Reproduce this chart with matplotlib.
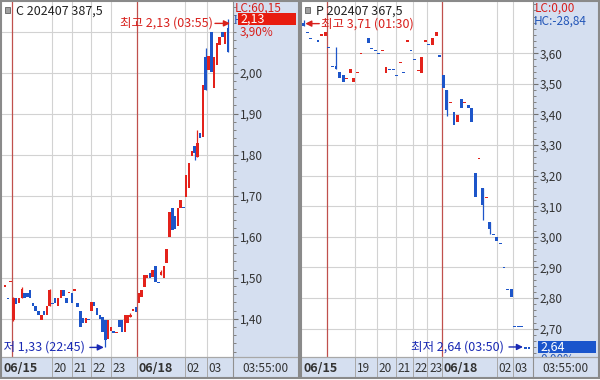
import numpy as np
import matplotlib
matplotlib.use('Agg')
import matplotlib.pyplot as plt
from matplotlib.patches import Rectangle
from matplotlib.transforms import offset_copy
from matplotlib.ticker import MultipleLocator, FuncFormatter

plt.rcParams['font.family'] = ['Noto Sans CJK KR', 'DejaVu Sans']
plt.rcParams['axes.unicode_minus'] = False

nan = float('nan')

# ---------------- call option panel data ----------------
call_title = 'C 202407 387,5'
call_open = [1.480, 1.450, 1.490, 1.397, 1.450, 1.438, 1.450, 1.462, 1.462, 1.470,
             1.438, 1.430, 1.420, 1.397, 1.418, 1.408, 1.430, 1.438, 1.450, 1.430,
             1.450, 1.470, 1.450, 1.463, 1.463, 1.470, 1.438, 1.418, 1.401, 1.389,
             1.398, 1.418, 1.440, 1.426, 1.410, 1.405, 1.397, 1.350, 1.370, 1.370,
             1.366, 1.397, 1.397, 1.368, 1.390, 1.405, 1.421, 1.429, 1.438, 1.454,
             1.478, 1.499, 1.511, 1.502, 1.528, 1.489, 1.507, 1.499, 1.537, 1.599,
             1.669, 1.650, 1.626, 1.669, 1.672, 1.698, 1.718, 1.797, 1.820, 1.795,
             1.852, 1.843, 2.039, 2.007, 2.099, 1.962, 2.019, 2.068, 2.099, 2.070,
             2.108]
call_high = [1.480, 1.450, 1.490, 1.452, 1.450, 1.450, 1.478, 1.462, 1.462, 1.470,
             1.438, 1.430, 1.420, 1.408, 1.418, 1.430, 1.472, 1.438, 1.450, 1.450,
             1.470, 1.470, 1.450, 1.463, 1.463, 1.470, 1.438, 1.418, 1.401, 1.401,
             1.398, 1.440, 1.440, 1.426, 1.410, 1.405, 1.397, 1.397, 1.380, 1.370,
             1.366, 1.397, 1.397, 1.408, 1.409, 1.414, 1.421, 1.429, 1.462, 1.470,
             1.507, 1.507, 1.511, 1.518, 1.528, 1.489, 1.520, 1.529, 1.570, 1.661,
             1.669, 1.650, 1.670, 1.689, 1.672, 1.750, 1.779, 1.810, 1.820, 1.860,
             1.852, 1.970, 2.059, 2.040, 2.099, 2.039, 2.072, 2.088, 2.099, 2.100,
             2.130]
call_low = [1.480, 1.450, 1.490, 1.395, 1.435, 1.438, 1.450, 1.450, 1.452, 1.450,
            1.430, 1.418, 1.408, 1.397, 1.410, 1.408, 1.430, 1.438, 1.438, 1.430,
            1.450, 1.455, 1.438, 1.463, 1.438, 1.470, 1.428, 1.380, 1.389, 1.389,
            1.398, 1.418, 1.430, 1.410, 1.400, 1.368, 1.330, 1.350, 1.370, 1.365,
            1.366, 1.380, 1.368, 1.368, 1.390, 1.405, 1.421, 1.417, 1.438, 1.454,
            1.478, 1.499, 1.500, 1.502, 1.490, 1.489, 1.507, 1.499, 1.537, 1.599,
            1.616, 1.618, 1.626, 1.669, 1.672, 1.698, 1.718, 1.797, 1.787, 1.795,
            1.840, 1.843, 1.958, 2.007, 2.002, 1.962, 2.019, 2.068, 2.088, 2.070,
            2.051]
call_close = [1.480, 1.450, 1.490, 1.450, 1.435, 1.450, 1.472, 1.450, 1.452, 1.450,
              1.430, 1.418, 1.408, 1.408, 1.410, 1.430, 1.470, 1.438, 1.438, 1.450,
              1.470, 1.455, 1.438, 1.463, 1.438, 1.470, 1.428, 1.380, 1.389, 1.401,
              1.398, 1.440, 1.430, 1.410, 1.400, 1.368, 1.348, 1.397, 1.380, 1.365,
              1.366, 1.380, 1.368, 1.408, 1.409, 1.409, 1.421, 1.417, 1.462, 1.470,
              1.507, 1.507, 1.500, 1.518, 1.490, 1.489, 1.515, 1.529, 1.570, 1.661,
              1.616, 1.618, 1.670, 1.689, 1.672, 1.750, 1.779, 1.810, 1.803, 1.828,
              1.840, 1.970, 1.958, 2.040, 2.002, 2.039, 2.072, 2.088, 2.088, 2.100,
              2.051]
call_time_pos = [2.5, 16.8, 23.9, 30.9, 38.1, 47.5, 64.5, 72.5]
call_time_labels = ['06/15', '20', '21', '22', '23', '06/18', '02', '03']
call_yticks = [1.40, 1.50, 1.60, 1.70, 1.80, 1.90, 2.00]
call_ygrid = [1.40, 1.50, 1.60, 1.70, 1.80, 1.90, 2.00, 2.10]
call_last = 2.13
call_pct = '3,90%'
call_lc = 'LC:60,15'
call_hc = 'HC:'
call_hi_time = '03:55'
call_lo_time = '22:45'
call_clock = '03:55:00'

# ---------------- put option panel data ----------------
put_title = 'P 202407 367,5'
put_open = [3.700, 3.669, 3.649, nan, 3.640, 3.660, 3.658, 3.620, 3.558, 3.558,
            3.540, 3.529, 3.518, 3.537, 3.505, 3.537, 3.600, nan, 3.649, 3.616,
            3.608, 3.600, 3.608, 3.535, 3.548, 3.548, 3.527, 3.569, 3.537, 3.640,
            3.608, 3.580, 3.541, 3.537, 3.640, 3.630, 3.627, 3.657, 3.591, 3.529,
            3.480, 3.439, 3.409, 3.376, 3.450, 3.439, 3.431, 3.420, 3.208, 3.257,
            3.161, 3.129, 3.048, 3.008, 3.000, 2.979, 2.899, 2.829, 2.829, 2.707,
            2.707, 2.707, 2.637, 2.637]
put_high = [3.710, 3.669, 3.649, nan, 3.640, 3.660, 3.669, 3.620, 3.558, 3.620,
            3.540, 3.529, 3.518, 3.548, 3.518, 3.537, 3.600, nan, 3.649, 3.616,
            3.608, 3.600, 3.608, 3.556, 3.548, 3.548, 3.527, 3.569, 3.537, 3.640,
            3.608, 3.580, 3.545, 3.589, 3.640, 3.630, 3.649, 3.671, 3.591, 3.529,
            3.480, 3.439, 3.409, 3.398, 3.450, 3.439, 3.431, 3.420, 3.208, 3.257,
            3.161, 3.129, 3.048, 3.008, 3.000, 2.979, 2.899, 2.829, 2.829, 2.707,
            2.707, 2.707, 2.637, 2.637]
put_low = [3.688, 3.669, 3.649, nan, 3.640, 3.660, 3.658, 3.620, 3.558, 3.548,
           3.518, 3.507, 3.518, 3.537, 3.505, 3.537, 3.600, nan, 3.635, 3.616,
           3.608, 3.600, 3.608, 3.535, 3.548, 3.548, 3.527, 3.569, 3.537, 3.640,
           3.608, 3.580, 3.541, 3.537, 3.640, 3.630, 3.627, 3.657, 3.591, 3.485,
           3.395, 3.439, 3.366, 3.376, 3.420, 3.439, 3.420, 3.376, 3.129, 3.257,
           3.055, 3.129, 3.010, 3.008, 2.987, 2.979, 2.899, 2.829, 2.805, 2.707,
           2.707, 2.707, 2.637, 2.637]
put_close = [3.688, 3.669, 3.649, nan, 3.640, 3.660, 3.669, 3.620, 3.558, 3.548,
             3.518, 3.507, 3.518, 3.548, 3.518, 3.537, 3.600, nan, 3.635, 3.616,
             3.608, 3.600, 3.608, 3.556, 3.548, 3.548, 3.527, 3.569, 3.537, 3.640,
             3.608, 3.580, 3.545, 3.589, 3.640, 3.630, 3.649, 3.671, 3.591, 3.485,
             3.415, 3.439, 3.366, 3.398, 3.420, 3.439, 3.420, 3.376, 3.129, 3.257,
             3.104, 3.129, 3.025, 3.008, 2.987, 2.979, 2.899, 2.829, 2.805, 2.707,
             2.707, 2.707, 2.637, 2.637]
put_time_pos = [6.5, 14.4, 20.5, 25.7, 30.5, 34.6, 38.55, 54.1, 58.5]
put_time_labels = ['06/15', '19', '20', '21', '22', '23', '06/18', '02', '03']
put_yticks = [2.70, 2.80, 2.90, 3.00, 3.10, 3.20, 3.30, 3.40, 3.50, 3.60]
put_ygrid = [2.70, 2.80, 2.90, 3.00, 3.10, 3.20, 3.30, 3.40, 3.50, 3.60]
put_last = 2.64
put_pct = '0,00%'
put_lc = 'LC:0,00'
put_hc = 'HC:-28,84'
put_hi_time = '01:30'
put_lo_time = '03:50'
put_clock = '03:55:00'

# ---------------- style ----------------
UP = '#e3221b'
DOWN = '#1d55c9'
RED_LINE = '#c0504d'
GRID = '#d2d2d2'
AXBG = '#d5dff0'
TXT = '#333333'
RED_TXT = '#d8201c'
BLUE_TXT = '#1a2ab4'
HC_BLUE = '#2356b8'
BOX_RED = '#e81c10'
BOX_BLUE = '#1a55cc'
FRAME = '#8a8a8a'
SEP = '#a8a8a8'

W, H = 600, 380
fig = plt.figure(figsize=(W / 100, H / 100), dpi=100)
fig.patch.set_facecolor('white')


def rect(x0, y0, x1, y1):
    return [x0 / W, 1 - y1 / H, (x1 - x0) / W, (y1 - y0) / H]


bg = fig.add_axes([0, 0, 1, 1], zorder=0)
bg.set_xlim(0, W); bg.set_ylim(H, 0); bg.axis('off')
ov = fig.add_axes([0, 0, 1, 1], zorder=3)
ov.set_xlim(0, W); ov.set_ylim(H, 0); ov.axis('off')

fmt = lambda v: f'{v:.2f}'.replace('.', ',')


def panel(ox, title, O, Hh, L, C, tpos, tlabels, xlim, ylim, yticks, ygrid, cw,
          lc, hc, hc_color, last, box_color, pct, pct_color, hi_time, lo_time,
          clock, hi_right, hi_off, lo_off):
    O, Hh, L, C = (np.array(a, float) for a in (O, Hh, L, C))
    bg.add_patch(Rectangle((ox + 233, 2), 66, 355, fc=AXBG, ec='none'))
    ax = fig.add_axes(rect(ox + 2, 2, ox + 233, 357), zorder=1)
    ax.set_facecolor('white')
    ax.set_xlim(*xlim); ax.set_ylim(*ylim)
    for s in ('top', 'left', 'bottom'):
        ax.spines[s].set_visible(False)
    ax.spines['right'].set_color('#909090'); ax.spines['right'].set_linewidth(0.8)
    ax.set_xticks([])
    ax.yaxis.tick_right()
    ax.set_yticks(yticks)
    ax.yaxis.set_minor_locator(MultipleLocator(0.02))
    ax.yaxis.set_major_formatter(FuncFormatter(lambda v, p: fmt(v)))
    ax.tick_params(axis='y', which='major', direction='out', length=3.8, width=0.8,
                   color='#707070', labelsize=8.5, labelcolor=TXT, pad=1.0)
    ax.tick_params(axis='y', which='minor', direction='out', length=2.0, width=0.7,
                   color='#808080')
    for v in ygrid:
        ax.axhline(v, color=GRID, lw=0.8, zorder=0.5)
    for p, lab in zip(tpos, tlabels):
        is_date = '/' in lab
        ax.axvline(p, color=RED_LINE if is_date else GRID, lw=0.9 if is_date else 0.8,
                   zorder=0.6 if not is_date else 0.7)

    minh = (ylim[1] - ylim[0]) / 355 * 1.2
    prev_c, prev_up = nan, True
    for i in range(len(O)):
        if np.isnan(O[i]):
            continue
        if C[i] > O[i]:
            up = True
        elif C[i] < O[i]:
            up = False
        elif not np.isnan(prev_c) and C[i] != prev_c:
            up = C[i] > prev_c
        else:
            up = prev_up
        col = UP if up else DOWN
        lo, hi = min(O[i], C[i]), max(O[i], C[i])
        if hi - lo < minh:
            mid = (hi + lo) / 2
            lo, hi = mid - minh / 2, mid + minh / 2
        if Hh[i] > max(O[i], C[i]) + 1e-9 or L[i] < min(O[i], C[i]) - 1e-9:
            ax.vlines(i, L[i], Hh[i], color=col, lw=0.9, zorder=1.9)
        ax.bar(i, hi - lo, width=cw, bottom=lo, color=col, linewidth=0, zorder=2)
        prev_c, prev_up = C[i], up

    # high / low markers
    ih = int(np.nanargmax(Hh)); il = int(np.nanargmin(L))
    vh, vl = Hh[ih], L[il]
    ap = dict(arrowstyle='-|>', mutation_scale=9, lw=1, shrinkA=0, shrinkB=0)
    trh = offset_copy(ax.transData, fig=fig, x=hi_off[0], y=hi_off[1], units='dots')
    trl = offset_copy(ax.transData, fig=fig, x=lo_off[0], y=lo_off[1], units='dots')
    if hi_right:
        ax.annotate('', xy=(ih, vh), xycoords=trh, xytext=(14, 0), textcoords='offset pixels',
                    arrowprops=dict(ap, color=RED_TXT))
        ax.annotate(f'최고 {fmt(vh)} ({hi_time})', xy=(ih, vh), xycoords=trh, xytext=(16, 0),
                    textcoords='offset pixels', ha='left', va='center', fontsize=9, color=RED_TXT)
    else:
        ax.annotate('', xy=(ih, vh), xycoords=trh, xytext=(-15, 0), textcoords='offset pixels',
                    arrowprops=dict(ap, color=RED_TXT))
        ax.annotate(f'최고 {fmt(vh)} ({hi_time})', xy=(ih, vh), xycoords=trh, xytext=(-17, 0),
                    textcoords='offset pixels', ha='right', va='center', fontsize=9, color=RED_TXT)
    ax.annotate('', xy=(il, vl), xycoords=trl, xytext=(-14, 0), textcoords='offset pixels',
                arrowprops=dict(ap, color=BLUE_TXT))
    ax.annotate(f'최저 {fmt(vl)} ({lo_time})', xy=(il, vl), xycoords=trl, xytext=(-19, 0),
                textcoords='offset pixels', ha='right', va='center', fontsize=9, color=BLUE_TXT)

    # header
    ov.add_patch(Rectangle((ox + 5, 7), 5, 6, fc='#a0a0a0', ec='#606060', lw=0.6))
    ov.text(ox + 16, 11, title, fontsize=9, color='#222222', va='center', ha='left')
    ov.text(ox + 235, 8, lc, fontsize=8.5, color=RED_TXT, va='center', ha='left')
    ov.text(ox + 234, 21, hc, fontsize=8.5, color=hc_color, va='center', ha='left', zorder=2)

    # last price box
    yb = H - ax.transData.transform((0, last))[1]
    ov.add_patch(Rectangle((ox + 238, yb - 6), 58, 12, fc=box_color, ec='none', zorder=2.2))
    ov.text(ox + 240, yb, fmt(last), fontsize=9, color='white', va='center', ha='left', zorder=2.3)
    ov.text(ox + 240, yb + 12.5, pct, fontsize=8.5, color=pct_color, va='center', ha='left',
            zorder=1)

    # bottom row
    ov.add_patch(Rectangle((ox + 1, 357), 298, 21, fc=AXBG, ec='none', zorder=2))
    ov.plot([ox + 1, ox + 298], [357, 357], color=SEP, lw=0.9, zorder=2.5)
    ov.plot([ox + 233, ox + 233], [357, 378], color='#909090', lw=0.8, zorder=2.5)
    for k, (p, lab) in enumerate(zip(tpos, tlabels)):
        xp = ax.transData.transform((p, 0))[0]
        is_date = '/' in lab
        if k == 0:
            xl = ox + 3
        else:
            xl = xp + 1.5
            ov.plot([xp, xp], [357, 378], color=SEP, lw=0.7, zorder=2.5)
        ov.text(xl, 368, lab, fontsize=9 if is_date else 8.5,
                fontweight='bold' if is_date else 'normal', color=TXT,
                va='center', ha='left', zorder=3)
    ov.text(ox + 242, 368, clock, fontsize=8.5, color=TXT, va='center', ha='left', zorder=3)
    ov.add_patch(Rectangle((ox + 1, 1), 298, 377, fill=False, ec=FRAME, lw=1.5, zorder=4))
    return ax


panel(0, call_title, call_open, call_high, call_low, call_close,
      call_time_pos, call_time_labels, (-1.09, 81.8), (1.3066, 2.1724),
      call_yticks, call_ygrid, 0.9, call_lc, call_hc, HC_BLUE, call_last, BOX_RED,
      call_pct, RED_TXT, call_hi_time, call_lo_time, call_clock,
      hi_right=False, hi_off=(2, -4), lo_off=(-1.5, 0))

panel(300, put_title, put_open, put_high, put_low, put_close,
      put_time_pos, put_time_labels, (-0.49, 64.1), (2.6075, 3.7676),
      put_yticks, put_ygrid, 0.8, put_lc, put_hc, HC_BLUE, put_last, BOX_BLUE,
      put_pct, HC_BLUE, put_hi_time, put_lo_time, put_clock,
      hi_right=True, hi_off=(1.5, -4), lo_off=(-2.5, 1))

fig.savefig('out.png', dpi=100)
